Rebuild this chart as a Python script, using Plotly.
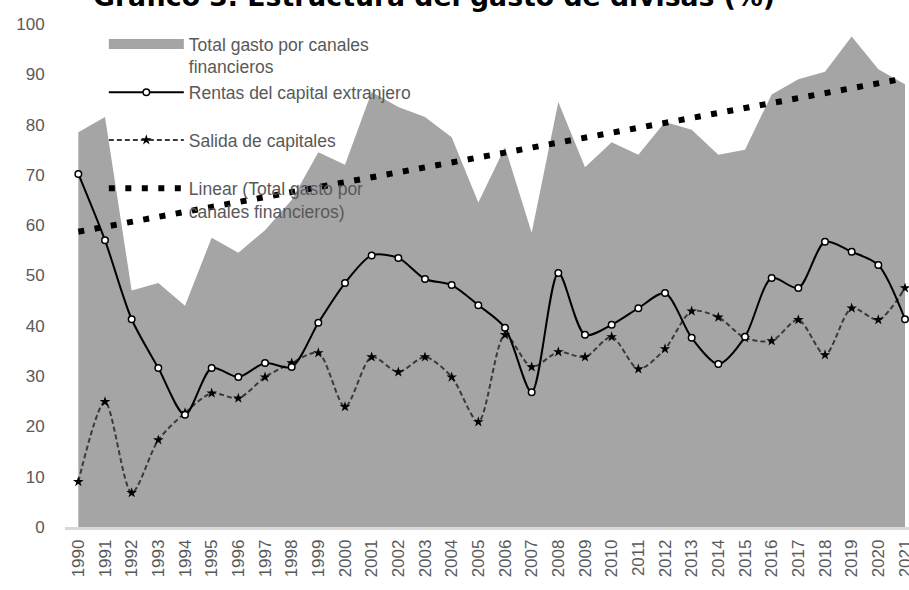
import numpy as np
import plotly.graph_objects as go

years = list(range(1990, 2022))
total_gasto = [78.5, 81.5, 47, 48.5, 44, 57.5, 54.5, 59, 65, 74.5, 72, 86.5, 83.5, 81.5, 77.5, 64.5,
               75.5, 58.5, 84.5, 71.5, 76.5, 74, 80.5, 79, 74, 75, 86, 89, 90.5, 97.5, 91, 88]
rentas = [70.2, 57, 41.3, 31.6, 22.3, 31.6, 29.8, 32.6, 31.8, 40.6, 48.5, 54, 53.5, 49.3, 48.1, 44.1,
          39.6, 26.8, 50.5, 38.2, 40.2, 43.5, 46.5, 37.6, 32.4, 37.8, 49.5, 47.5, 56.7, 54.7, 52.1, 41.3]
salida = [9.0, 24.9, 6.8, 17.3, 22.7, 26.6, 25.6, 29.8, 32.6, 34.6, 23.9, 33.8, 30.8, 33.8, 29.8, 20.9,
          38.2, 31.8, 34.8, 33.8, 37.8, 31.4, 35.4, 42.9, 41.7, 37.6, 37.0, 41.2, 34.2, 43.5, 41.2, 47.5]
year_labels = [str(y) for y in years]

# linear trend of the total (Excel "Linear" trendline)
coef = np.polyfit(years, total_gasto, 1)
trend = list(np.polyval(coef, years))

FONT = "Liberation Sans, Arial, sans-serif"
GREY_TXT = "#595959"
AREA = "#a5a5a5"

fig = go.Figure()
fig.add_trace(go.Scatter(
    x=years, y=total_gasto, mode="lines", fill="tozeroy",
    line=dict(width=0, color=AREA), fillcolor=AREA,
    showlegend=False, hoverinfo="x+y", name="Total gasto por canales financieros"))
# legend entry for the area (thick grey swatch)
fig.add_trace(go.Scatter(
    x=[None], y=[None], mode="lines", line=dict(width=10, color=AREA),
    name="Total gasto por canales<br>financieros", legend="legend"))
fig.add_trace(go.Scatter(
    x=years, y=trend, mode="lines",
    line=dict(color="black", width=6, dash="6px,10.5px"),
    name="Linear (Total gasto por<br>canales financieros)", legend="legend4"))
fig.add_trace(go.Scatter(
    x=years, y=salida, mode="lines+markers",
    line=dict(color="#3a3a3a", width=2, dash="5px,3px", shape="spline", smoothing=0.8),
    marker=dict(symbol="star", size=8, color="black"),
    name="Salida de capitales", legend="legend3"))
fig.add_trace(go.Scatter(
    x=years, y=rentas, mode="lines+markers",
    line=dict(color="black", width=2, shape="spline", smoothing=0.8),
    marker=dict(symbol="circle", size=6.5, color="white", line=dict(color="black", width=1.5)),
    name="Rentas del capital extranjero", legend="legend2"))

leg_common = dict(xanchor="left", yanchor="top", bgcolor="rgba(0,0,0,0)",
                  font=dict(family=FONT, size=17.5, color=GREY_TXT),
                  itemwidth=75, valign="top", tracegroupgap=0)
LX = 0.046

fig.update_layout(
    width=909, height=590,
    margin=dict(l=65, r=0, t=24, b=63, autoexpand=False),
    paper_bgcolor="white", plot_bgcolor="white",
    annotations=[dict(text="<b>Gráfico 3. Estructura del gasto de divisas (%)</b>",
                      font=dict(family="DejaVu Sans, sans-serif", size=26.7, color="black"),
                      xref="paper", yref="paper", x=0.437, y=1, xanchor="center",
                      yanchor="bottom", yshift=10, showarrow=False)],
    legend=dict(x=LX, y=0.996, **leg_common),
    legend2=dict(x=LX, y=0.90, **leg_common),
    legend3=dict(x=LX, y=0.805, **leg_common),
    legend4=dict(x=LX, y=0.709, **leg_common),
    xaxis=dict(range=[1989.5, 2021.15], tickmode="array", tickvals=years, ticktext=year_labels,
               tickangle=-90, showgrid=False, zeroline=False, automargin=False,
               showline=True, linecolor="#d9d9d9", linewidth=2.5, ticklabelstandoff=3,
               ticklabeloverflow="allow",
               ticks="", tickfont=dict(family=FONT, size=17, color=GREY_TXT)),
    yaxis=dict(range=[0, 100], tickvals=list(range(0, 101, 10)), showgrid=False, zeroline=False,
               showline=False, ticks="outside", ticklen=16, tickcolor="rgba(0,0,0,0)",
               automargin=False,
               tickfont=dict(family=FONT, size=17, color=GREY_TXT)),
    showlegend=True,
)

fig.write_html("out.html", config={"displayModeBar": False},
               post_script="document.body.style.margin='0';")
